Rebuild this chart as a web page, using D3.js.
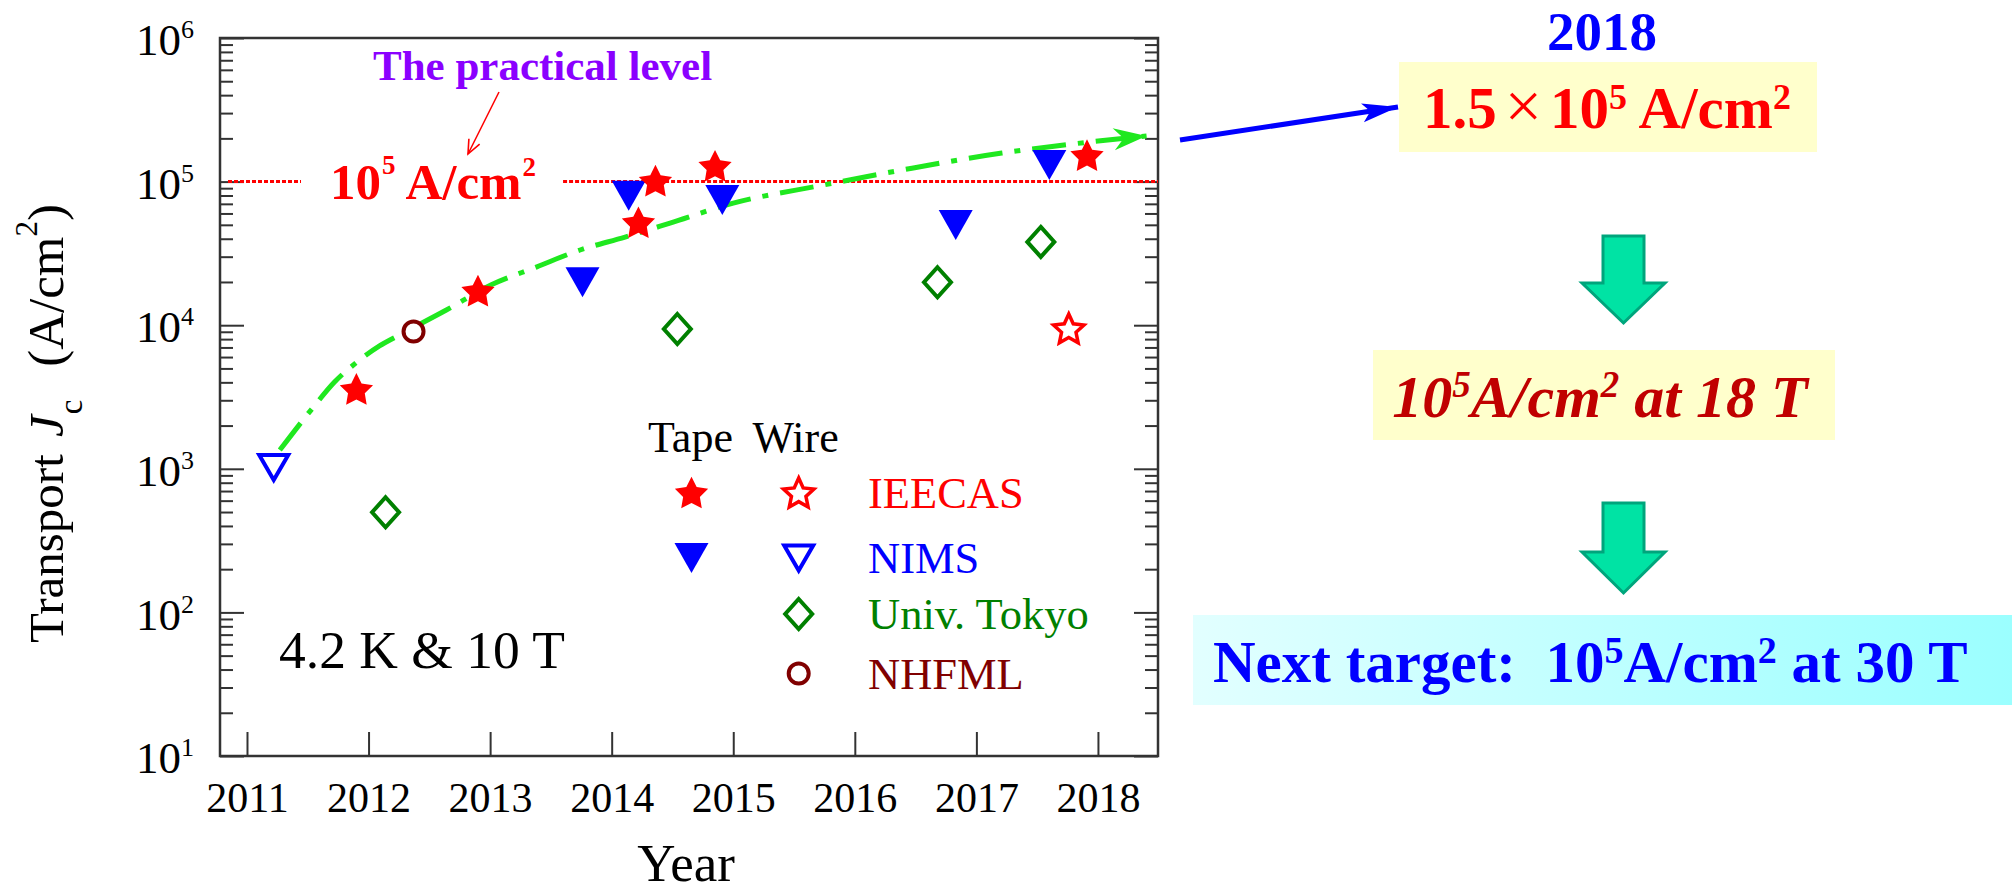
<!DOCTYPE html>
<html><head><meta charset="utf-8">
<script src="https://cdn.jsdelivr.net/npm/d3@7"></script>
<style>
body{margin:0;background:#fff;}
svg{display:block;font-family:"Liberation Serif","Times New Roman",serif;}
</style></head><body>
<script>
// ---------------- data ----------------
const xTickYears = [2011, 2012, 2013, 2014, 2015, 2016, 2017, 2018];
const yMajorTicks = [1e1, 1e2, 1e3, 1e4, 1e5, 1e6];
const ieecasTapeYear = [2011.90, 2012.90, 2014.22, 2014.36, 2014.85, 2017.91];
const ieecasTapeJc   = [3600, 17400, 52100, 101500, 129000, 153000];
const ieecasWireYear = [2017.76];
const ieecasWireJc   = [9500];
const nimsTapeYear = [2013.76, 2014.14, 2014.91, 2016.83, 2017.60];
const nimsTapeJc   = [19900, 79800, 74500, 49900, 130500];
const nimsWireYear = [2011.22];
const nimsWireJc   = [1020];
const tokyoWireYear = [2012.14, 2014.54, 2016.68, 2017.53];
const tokyoWireJc   = [498, 9410, 19900, 38000];
const nhfmlWireYear = [2012.37];
const nhfmlWireJc   = [9040];
const trendYear = [2011.27, 2011.54, 2011.72, 2011.905, 2012.09, 2012.27, 2012.64, 2013.01, 2013.38, 2013.74, 2014.11, 2014.48, 2015.00, 2015.74, 2016.47, 2017.21, 2017.94, 2018.40];
const trendJc   = [1350, 2650, 4020, 5540, 7170, 8690, 12760, 19100, 25400, 33400, 41100, 51400, 70800, 94600, 124000, 158000, 189000, 208000];
const practicalLevel = 1e5;
const legendLabels = ["IEECAS", "NIMS", "Univ. Tokyo", "NHFML"];
const legendHeader = ["Tape", "Wire"];

// ---------------- layout ----------------
const W = 2014, H = 893;
const plot = {left: 220, right: 1158, top: 38, bottom: 756};
const C = {red: "#ff0000", blue: "#0000ff", green: "#008000", maroon: "#800000", lime: "#1fe81f", purple: "#8a00ff", axis: "#333"};

const svg = d3.select("body").append("svg").attr("width", W).attr("height", H);
const defs = svg.append("defs");

const x = d3.scaleLinear().domain([2010.778, 2018.494]).range([plot.left, plot.right]);
const y = d3.scaleLog().domain([10, 1e6]).range([plot.bottom, plot.top]);

const yMinorTicks = [];
for (let k = 1; k < 6; k++) for (let m = 2; m <= 9; m++) yMinorTicks.push(m * Math.pow(10, k));

// frame
svg.append("rect").attr("x", plot.left).attr("y", plot.top)
  .attr("width", plot.right - plot.left).attr("height", plot.bottom - plot.top)
  .attr("fill", "none").attr("stroke", C.axis).attr("stroke-width", 2.5);

function styleAxis(g) {
  g.select(".domain").remove();
  g.selectAll(".tick line").attr("stroke", C.axis).attr("stroke-width", 2);
}
// bottom axis
const gx = svg.append("g").attr("transform", `translate(0,${plot.bottom})`)
  .call(d3.axisBottom(x).tickValues(xTickYears).tickSizeInner(-24).tickSizeOuter(0).tickFormat(d3.format("d")));
styleAxis(gx);
gx.selectAll(".tick text").attr("y", 56).attr("dy", 0).attr("font-size", 42)
  .attr("font-family", "Liberation Serif").attr("fill", "#000");

// left axis major
const gyL = svg.append("g").attr("transform", `translate(${plot.left},0)`)
  .call(d3.axisLeft(y).tickValues(yMajorTicks).tickSizeInner(-24).tickSizeOuter(0).tickPadding(37));
styleAxis(gyL);
gyL.selectAll(".tick text").each(function(d) {
  const t = d3.select(this);
  t.text(null).attr("x", -84).attr("dy", "0.37em").attr("font-size", 45)
   .attr("font-family", "Liberation Serif").attr("fill", "#000").attr("text-anchor", "start");
  t.append("tspan").text("10");
  t.append("tspan").attr("font-size", 26).attr("dy", -17).text(Math.round(Math.log10(d)));
});
svg.append("g").attr("transform", `translate(${plot.left},0)`)
  .call(d3.axisLeft(y).tickValues(yMinorTicks).tickSizeInner(-13).tickSizeOuter(0).tickFormat(""))
  .call(styleAxis);
// right axis
svg.append("g").attr("transform", `translate(${plot.right},0)`)
  .call(d3.axisRight(y).tickValues(yMajorTicks).tickSizeInner(-24).tickSizeOuter(0).tickFormat(""))
  .call(styleAxis);
svg.append("g").attr("transform", `translate(${plot.right},0)`)
  .call(d3.axisRight(y).tickValues(yMinorTicks).tickSizeInner(-13).tickSizeOuter(0).tickFormat(""))
  .call(styleAxis);

// axis titles
const yt = svg.append("text").attr("transform", "translate(63,643) rotate(-90)")
  .attr("font-size", 49).attr("fill", "#000");
yt.append("tspan").text("Transport ");
yt.append("tspan").attr("font-style", "italic").attr("dx", 5).text("J");
yt.append("tspan").attr("font-size", 33).attr("dy", 19).attr("dx", 1).text("c");
yt.append("tspan").attr("dy", -19).attr("dx", 20).attr("font-size", 51).text(" (A/cm");
yt.append("tspan").attr("font-size", 31).attr("dy", -26).text("2");
yt.append("tspan").attr("dy", 26).attr("font-size", 51).text(")");

svg.append("text").attr("x", (plot.left + plot.right) / 2 - 3).attr("y", 881)
  .attr("text-anchor", "middle").attr("font-size", 53).attr("fill", "#000").text("Year");

// practical level label + dotted line
const lvlY = y(practicalLevel);
const lvl = svg.append("text").attr("x", 330).attr("y", lvlY + 17)
  .attr("font-size", 51).attr("font-weight", "bold").attr("fill", C.red);
lvl.append("tspan").text("10");
lvl.append("tspan").attr("font-size", 27).attr("dy", -25).attr("dx", 1).text("5");
lvl.append("tspan").attr("dy", 25).text(" A/cm");
lvl.append("tspan").attr("font-size", 27).attr("dy", -23).attr("dx", 1).text("2");
const lb = lvl.node().getBBox();
const dotted = [[plot.left + 8, lb.x - 29], [lb.x + lb.width + 27, plot.right]];
svg.append("g").selectAll("line").data(dotted).join("line")
  .attr("x1", d => d[0]).attr("x2", d => d[1]).attr("y1", lvlY).attr("y2", lvlY)
  .attr("stroke", C.red).attr("stroke-width", 3).attr("stroke-dasharray", "4,2");

svg.append("text").attr("x", 373).attr("y", 80).attr("font-size", 43).attr("font-weight", "bold")
  .attr("fill", C.purple).text("The practical level");

// markers
defs.append("marker").attr("id", "headRed").attr("markerUnits", "userSpaceOnUse")
  .attr("viewBox", "-16 -8 18 16").attr("markerWidth", 18).attr("markerHeight", 16)
  .attr("refX", 0).attr("refY", 0).attr("orient", "auto")
  .append("path").attr("d", "M-14,-6L0,0L-14,6").attr("fill", "none").attr("stroke", C.red).attr("stroke-width", 1.6);
defs.append("marker").attr("id", "headGreen").attr("markerUnits", "userSpaceOnUse")
  .attr("viewBox", "-34 -13 36 26").attr("markerWidth", 36).attr("markerHeight", 26)
  .attr("refX", 0).attr("refY", 0).attr("orient", "auto")
  .append("path").attr("d", "M0,0L-33,-11L-23,0L-33,11Z").attr("fill", C.lime);
defs.append("marker").attr("id", "headBlue").attr("markerUnits", "userSpaceOnUse")
  .attr("viewBox", "-38 -12 40 24").attr("markerWidth", 40).attr("markerHeight", 24)
  .attr("refX", 0).attr("refY", 0).attr("orient", "auto")
  .append("path").attr("d", "M0,0L-36,-9L-28,0L-36,10Z").attr("fill", C.blue);

svg.append("line").attr("x1", 499).attr("y1", 92).attr("x2", 468).attr("y2", 154)
  .attr("stroke", C.red).attr("stroke-width", 1.6).attr("marker-end", "url(#headRed)");

// trend curve
const trend = trendYear.map((t, i) => [t, trendJc[i]]);
svg.append("path").datum(trend)
  .attr("d", d3.line().x(d => x(d[0])).y(d => y(d[1])).curve(d3.curveMonotoneX))
  .attr("fill", "none").attr("stroke", C.lime).attr("stroke-width", 5)
  .attr("stroke-dasharray", "34,12,6,12").attr("marker-end", "url(#headGreen)");

// symbol paths
function starPath(R, r) {
  const off = (R - R * Math.cos(Math.PI / 5)) / 2;
  const pts = d3.range(10).map(i => {
    const a = -Math.PI / 2 + i * Math.PI / 5, rad = i % 2 ? r : R;
    return [rad * Math.cos(a), rad * Math.sin(a) + off];
  });
  return "M" + pts.map(p => p[0].toFixed(2) + "," + p[1].toFixed(2)).join("L") + "Z";
}
const SYM = {
  starFilled: {d: starPath(17.5, 8.8), fill: true},
  starOpen: {d: starPath(16, 7.6), fill: false, sw: 3.5},
  triFilled: {d: "M-17,-15L17,-15L0,15Z", fill: true},
  triOpen: {d: "M-14.5,-12.5L14.5,-12.5L0,12.5Z", fill: false, sw: 4},
  diamond: {d: "M0,-15L13.5,0L0,15L-13.5,0Z", fill: false, sw: 4},
  circle: {d: d3.arc()({innerRadius: 0, outerRadius: 10, startAngle: 0, endAngle: 2 * Math.PI}), fill: false, sw: 4}
};
function drawSymbols(years, vals, sym, color) {
  const s = SYM[sym];
  svg.append("g").selectAll("path").data(years.map((t, i) => [t, vals[i]])).join("path")
    .attr("transform", d => `translate(${x(d[0])},${y(d[1])})`)
    .attr("d", s.d)
    .attr("fill", s.fill ? color : "#fff")
    .attr("stroke", s.fill ? "none" : color)
    .attr("stroke-width", s.sw || 0)
    .attr("stroke-linejoin", "miter");
}
drawSymbols(tokyoWireYear, tokyoWireJc, "diamond", C.green);
drawSymbols(nhfmlWireYear, nhfmlWireJc, "circle", C.maroon);
drawSymbols(nimsWireYear, nimsWireJc, "triOpen", C.blue);
drawSymbols(ieecasWireYear, ieecasWireJc, "starOpen", C.red);
drawSymbols(nimsTapeYear, nimsTapeJc, "triFilled", C.blue);
drawSymbols(ieecasTapeYear, ieecasTapeJc, "starFilled", C.red);

// condition label
svg.append("text").attr("x", 279).attr("y", 668).attr("font-size", 53.5).attr("fill", "#000").text("4.2 K & 10 T");

// legend
const leg = {tapeX: 691.5, wireX: 798.7, textX: 868, headerY: 452, rows: [492.5, 558, 614, 673.5]};
svg.append("g").selectAll("text").data(legendHeader).join("text")
  .attr("x", (d, i) => i ? leg.wireX - 3 : leg.tapeX - 1).attr("y", leg.headerY)
  .attr("text-anchor", "middle").attr("font-size", 44).attr("fill", "#000").text(d => d);
const legItems = [
  {tape: "starFilled", wire: "starOpen", color: C.red},
  {tape: "triFilled", wire: "triOpen", color: C.blue},
  {tape: null, wire: "diamond", color: C.green},
  {tape: null, wire: "circle", color: C.maroon}
];
legItems.forEach((it, i) => {
  const ry = leg.rows[i];
  [["tape", leg.tapeX], ["wire", leg.wireX]].forEach(([k, lx]) => {
    if (!it[k]) return;
    const s = SYM[it[k]];
    svg.append("path").attr("transform", `translate(${lx},${ry})`).attr("d", s.d)
      .attr("fill", s.fill ? it.color : "#fff").attr("stroke", s.fill ? "none" : it.color)
      .attr("stroke-width", s.sw || 0);
  });
  svg.append("text").attr("x", leg.textX).attr("y", ry + 15).attr("font-size", 44.5)
    .attr("fill", it.color).text(legendLabels[i]);
});

// ---------------- right panel ----------------
svg.append("line").attr("x1", 1180).attr("y1", 140).attr("x2", 1398).attr("y2", 107)
  .attr("stroke", C.blue).attr("stroke-width", 5).attr("marker-end", "url(#headBlue)");

svg.append("text").attr("x", 1602).attr("y", 50).attr("text-anchor", "middle")
  .attr("font-size", 55).attr("font-weight", "bold").attr("fill", C.blue).text("2018");

const boxes = [
  {x: 1399, y: 62, w: 418, h: 90, fill: "#ffffcc"},
  {x: 1373, y: 350, w: 462, h: 90, fill: "#ffffcc"},
  {x: 1193, y: 615, w: 819, h: 90, fill: "url(#cyanGrad)"}
];
const grad = defs.append("linearGradient").attr("id", "cyanGrad").attr("x1", 0).attr("x2", 1).attr("y1", 0).attr("y2", 0);
grad.append("stop").attr("offset", 0).attr("stop-color", "#e2ffff");
grad.append("stop").attr("offset", 1).attr("stop-color", "#9bffff");
svg.append("g").selectAll("rect").data(boxes).join("rect")
  .attr("x", d => d.x).attr("y", d => d.y).attr("width", d => d.w).attr("height", d => d.h).attr("fill", d => d.fill);

const t1 = svg.append("text").attr("x", 1607).attr("y", 128).attr("text-anchor", "middle")
  .attr("font-size", 59).attr("font-weight", "bold").attr("fill", C.red);
t1.append("tspan").text("1.5");
t1.append("tspan").attr("dx", 8).attr("font-weight", "normal").attr("font-size", 66).text("×");
t1.append("tspan").attr("dx", 8).text("10");
t1.append("tspan").attr("font-size", 36).attr("dy", -19).text("5");
t1.append("tspan").attr("dy", 19).text(" A/cm");
t1.append("tspan").attr("font-size", 36).attr("dy", -19).text("2");

const t2 = svg.append("text").attr("x", 1600).attr("y", 417).attr("text-anchor", "middle")
  .attr("font-size", 60).attr("font-weight", "bold").attr("font-style", "italic").attr("fill", "#c00000");
t2.append("tspan").text("10");
t2.append("tspan").attr("font-size", 37).attr("dy", -20).text("5");
t2.append("tspan").attr("dy", 20).text("A/cm");
t2.append("tspan").attr("font-size", 37).attr("dy", -20).text("2");
t2.append("tspan").attr("dy", 20).text(" at 18 T");

const t3 = svg.append("text").attr("x", 1213).attr("y", 682).style("white-space", "pre")
  .attr("font-size", 59).attr("font-weight", "bold").attr("fill", C.blue);
t3.append("tspan").text("Next target:  10");
t3.append("tspan").attr("font-size", 38).attr("dy", -19).text("5");
t3.append("tspan").attr("dy", 19).text("A/cm");
t3.append("tspan").attr("font-size", 38).attr("dy", -19).text("2");
t3.append("tspan").attr("dy", 19).text(" at 30 T");

// block arrows
const blockArrows = [{top: 236, head: 283, tip: 323}, {top: 503, head: 552, tip: 593}];
const ax = 1623.5, shaftHalf = 20.5, headHalf = 41.5;
svg.append("g").selectAll("path").data(blockArrows).join("path")
  .attr("d", d => `M${ax - shaftHalf},${d.top}H${ax + shaftHalf}V${d.head}H${ax + headHalf}L${ax},${d.tip}L${ax - headHalf},${d.head}H${ax - shaftHalf}Z`)
  .attr("fill", "#00e3a4").attr("stroke", "#00a57c").attr("stroke-width", 3);
</script>
</body></html>
